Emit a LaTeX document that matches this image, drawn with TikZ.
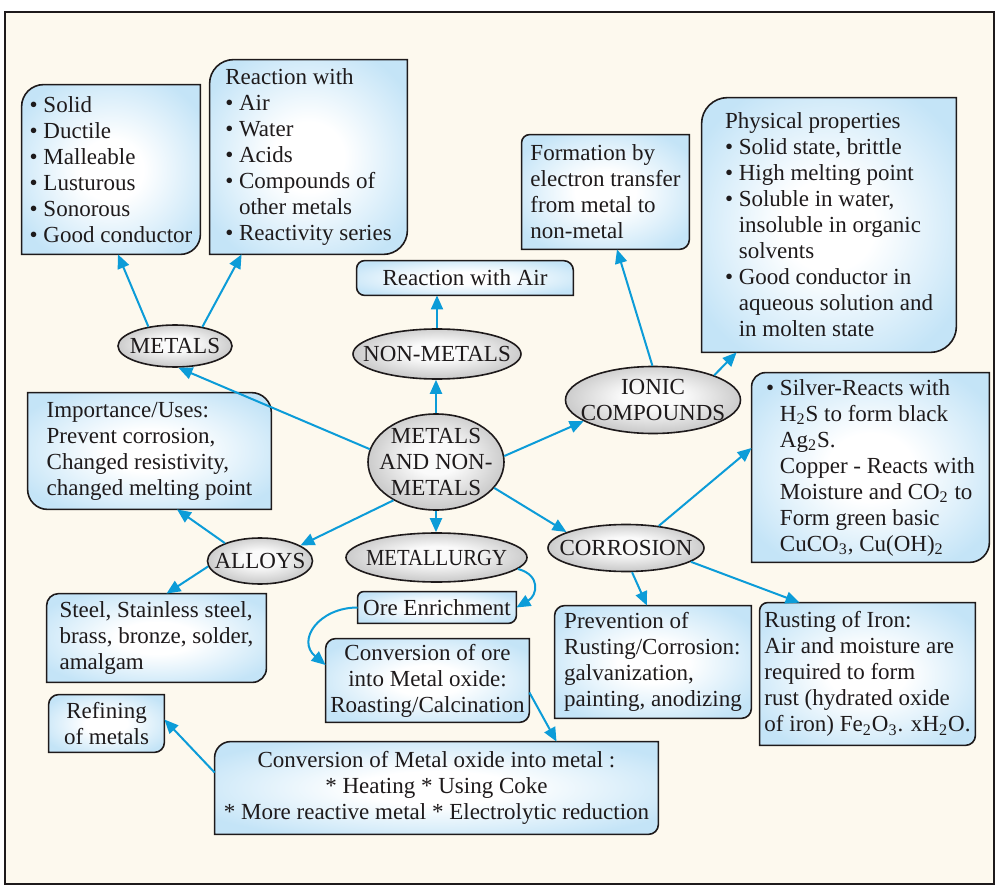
\documentclass[tikz,border=0pt]{standalone}
\usepackage{fontspec}
\setmainfont{Liberation Serif}
\usepackage{graphicx}
\usetikzlibrary{arrows.meta,shapes.geometric,backgrounds}
\definecolor{cream}{HTML}{FDF9EE}
\definecolor{boxblue}{HTML}{C4E4F7}
\definecolor{arrblue}{HTML}{0C9CD8}
\definecolor{ink}{HTML}{1E1A1B}
\colorlet{ecen}{gray!4}
\colorlet{eout}{gray!47}
\pgfdeclareradialshading{bsh}{\pgfpoint{0bp}{0bp}}{color(0bp)=(white); color(9bp)=(white); color(30bp)=(boxblue); color(50bp)=(boxblue)}
\pgfdeclareradialshading{esh}{\pgfpoint{0bp}{3bp}}{color(0bp)=(ecen); color(9bp)=(ecen); color(28bp)=(eout); color(50bp)=(eout)}
\newcommand\tlbr[3]{%
  \shadedraw[bline] (#1.south west) -- ([yshift=-#2]#1.north west)
    arc[start angle=180,end angle=90,radius=#2] -- (#1.north east)
    -- ([yshift=#3]#1.south east) arc[start angle=0,end angle=-90,radius=#3] -- cycle;}
\newcommand\trbl[3]{%
  \shadedraw[bline] (#1.north west) -- ([xshift=-#2]#1.north east)
    arc[start angle=90,end angle=0,radius=#2] -- (#1.south east)
    -- ([xshift=#3]#1.south west) arc[start angle=270,end angle=180,radius=#3] -- cycle;}
\newcommand\condtext[1]{\scalebox{0.9}[1]{#1}}
\begin{document}
\begin{tikzpicture}[x=0.5pt,y=-0.5pt,
  every node/.style={font=\fontsize{11.5}{13}\selectfont, text=ink},
  bx/.style={inner sep=0pt, align=left},
  cbx/.style={inner sep=0pt, align=center},
  ov/.style={ellipse, inner sep=0pt, draw=ink, line width=0.8pt, shading=esh, shade},
  arr/.style={draw=arrblue, line width=1pt, -{Triangle[length=7pt,width=6pt]}},
  bline/.style={draw=ink, line width=0.8pt, shading=bsh}]
\useasboundingbox (0,0) rectangle (997,888);
\begin{scope}[on background layer]
  \fill[white] (0,0) rectangle (997,888);
  \draw[ink, line width=1pt, fill=cream] (5,12) rectangle (994,884);
\end{scope}
% boxes
\node[bx, minimum width=89pt, minimum height=84.5pt] (m1) at (111,169.5)
  {\textbullet\ Solid\\\textbullet\ Ductile\\\textbullet\ Malleable\\\textbullet\ Lusturous\\\textbullet\ Sonorous\\\textbullet\ Good conductor};
\node[bx, minimum width=98.5pt, minimum height=97pt] (m2) at (308.5,157)
  {Reaction with\\\textbullet\ Air\\\textbullet\ Water\\\textbullet\ Acids\\\textbullet\ Compounds of\\\hphantom{\textbullet\ }other metals\\\textbullet\ Reactivity series};
\node[cbx, minimum width=108pt, minimum height=17pt] (rwa) at (465,278) {Reaction with Air};
\node[bx, minimum width=83.5pt, minimum height=57pt] (fm) at (605.5,192)
  {Formation by\\electron transfer\\from metal to\\non-metal};
\node[bx, minimum width=127pt, minimum height=127pt] (ph) at (829,225)
  {Physical properties\\\textbullet\ Solid state, brittle\\\textbullet\ High melting point\\\textbullet\ Soluble in water,\\\hphantom{\textbullet\ }insoluble in organic\\\hphantom{\textbullet\ }solvents\\\textbullet\ Good conductor in\\\hphantom{\textbullet\ }aqueous solution and\\\hphantom{\textbullet\ }in molten state};
\node[bx, minimum width=121.5pt, minimum height=58pt] (im) at (149.5,451)
  {Importance/Uses:\\Prevent corrosion,\\Changed resistivity,\\changed melting point};
\node[bx, minimum width=109.5pt, minimum height=44pt] (st) at (156.5,638)
  {Steel, Stainless steel,\\brass, bronze, solder,\\amalgam};
\node[cbx, minimum width=79pt, minimum height=15.5pt] (ore) at (437,607.5) {Ore Enrichment};
\node[cbx, minimum width=101.5pt, minimum height=41.5pt] (cvo) at (427.5,680.5)
  {Conversion of ore\\into Metal oxide:\\Roasting/Calcination};
\node[bx, minimum width=118.5pt, minimum height=94.5pt] (sv) at (870.5,467.5)
  {\textbullet\ Silver-Reacts with\\\hphantom{\textbullet\ }H\textsubscript{2}S to form black\\\hphantom{\textbullet\ }Ag\textsubscript{2}S.\\\hphantom{\textbullet\ }Copper - Reacts with\\\hphantom{\textbullet\ }Moisture and CO\textsubscript{2} to\\\hphantom{\textbullet\ }Form green basic\\\hphantom{\textbullet\ }CuCO\textsubscript{3}, Cu(OH)\textsubscript{2}};
\node[bx, minimum width=98pt, minimum height=56pt] (pv) at (653,662)
  {Prevention of\\Rusting/Corrosion:\\galvanization,\\painting, anodizing};
\node[bx, minimum width=107.5pt, minimum height=71pt] (ru) at (867.5,674)
  {Rusting of Iron:\\Air and moisture are\\required to form\\rust (hydrated oxide\\of iron) Fe\textsubscript{2}O\textsubscript{3}. xH\textsubscript{2}O.};
\node[cbx, minimum width=57.5pt, minimum height=28.5pt] (rf) at (106.5,723.5) {Refining\\of metals};
\node[cbx, minimum width=221.5pt, minimum height=46pt] (mx) at (436.5,788)
  {Conversion of Metal oxide into metal :\\* Heating * Using Coke\\* More reactive metal * Electrolytic reduction};
% ellipses
\node[ov, minimum width=57pt, minimum height=21pt, label={center:METALS}] (metals) at (175,346) {};
\node[ov, minimum width=84pt, minimum height=25pt, label={center:NON-METALS}] (nm) at (437,354) {};
\node[ov, minimum width=87.5pt, minimum height=33.5pt, label={[align=center]center:IONIC\\COMPOUNDS}] (ionic) at (653,400) {};
\node[ov, minimum width=68pt, minimum height=48pt, label={[align=center]center:METALS\\AND NON-\\METALS}] (c) at (436,462) {};
\node[ov, minimum width=52.5pt, minimum height=23pt, label={center:ALLOYS}] (alloys) at (260,561) {};
\node[ov, minimum width=90.5pt, minimum height=24.5pt, label={center:{\condtext{METALLURGY}}}] (mlg) at (436.5,557.5) {};
\node[ov, minimum width=78pt, minimum height=23.5pt, label={center:CORROSION}] (corr) at (626,548) {};
% box backgrounds
\begin{scope}[on background layer]
  \tlbr{m1}{11pt}{10pt}
  \tlbr{m2}{12pt}{12pt}
  \shadedraw[bline] ([yshift=-4pt]rwa.north west) arc[start angle=180,end angle=90,radius=4pt]
    -- ([xshift=-5pt]rwa.north east) arc[start angle=90,end angle=0,radius=5pt]
    -- (rwa.south east) -- ([xshift=4pt]rwa.south west) arc[start angle=270,end angle=180,radius=4pt] -- cycle;
  \tlbr{fm}{4pt}{5pt}
  \tlbr{ph}{13pt}{13pt}
  \trbl{im}{10pt}{10pt}
  \tlbr{st}{6pt}{7pt}
  \tlbr{ore}{3pt}{4pt}
  \tlbr{cvo}{5pt}{5pt}
  \tlbr{sv}{7pt}{10pt}
  \tlbr{pv}{5pt}{5pt}
  \tlbr{ru}{4pt}{5pt}
  \tlbr{rf}{5pt}{5pt}
  \tlbr{mx}{8pt}{5pt}
\end{scope}
% connectors
\draw[arr] (c.169) -- (metals.-81);
\draw[arr] (metals.144) -- ([xshift=3.5pt]m1.south);
\draw[arr] (metals.35) -- ([xshift=16pt]m2.south west);
\draw[arr] (c.north) -- (c.north |- nm.south);
\draw[arr] (nm.north) -- (nm.north |- rwa.south);
\draw[arr] (c.5) -- (ionic.197);
\draw[arr] (ionic.91) -- ([xshift=5.75pt]fm.south);
\draw[arr] (ionic.22) -- ([xshift=17.5pt]ph.south west);
\draw[arr] (c.222) -- (alloys.21);
\draw[arr] (alloys.153) -- ([xshift=13.75pt]im.south);
\draw[arr] (alloys.186) -- ([xshift=5pt]st.north);
\draw[arr] (c.south) -- (c.south |- mlg.north);
\draw[arr] (c.-24) -- (corr.165);
\draw[arr] (corr.34) -- ([yshift=9.75pt]sv.west);
\draw[arr] (corr.-76) -- ([xshift=-3pt]pv.north);
\draw[arr] (corr.-12) -- ([xshift=20pt]ru.north west);
\draw[arr] (mlg.-8) to[out=-15,in=30,looseness=1.6] (ore.east);
\draw[arr] (ore.west) to[out=180,in=140,looseness=1.5] ([yshift=7.75pt]cvo.west);
\draw[arr] ([yshift=-6pt]cvo.east) -- ([xshift=60pt]mx.north);
\draw[arr] ([yshift=7.75pt]mx.west) -- ([yshift=2pt]rf.east);
\end{tikzpicture}
\end{document}
